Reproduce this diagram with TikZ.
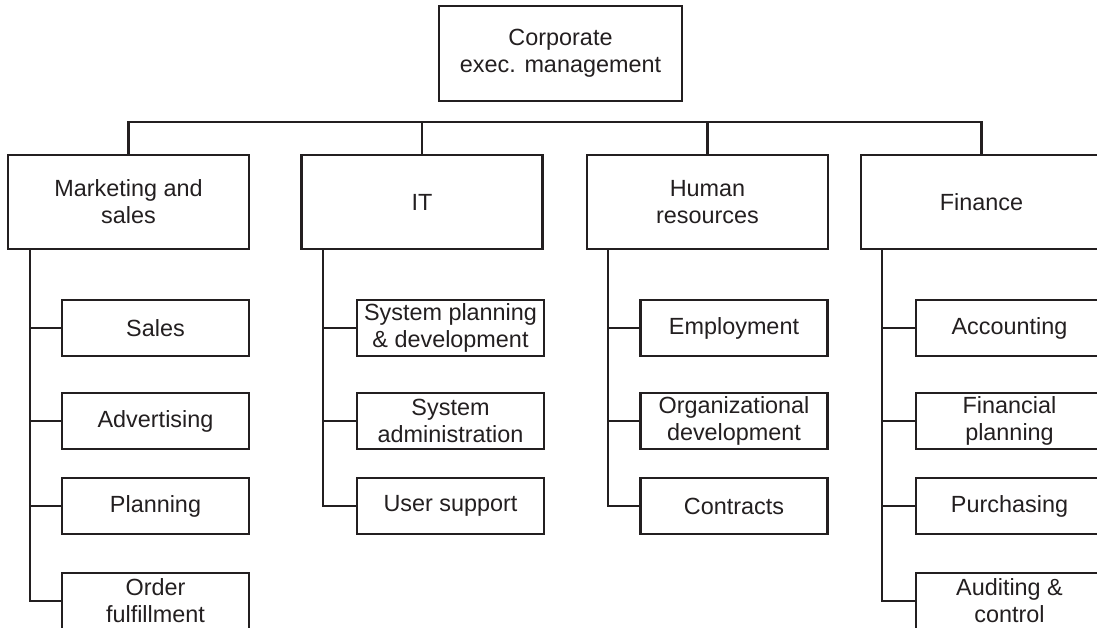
\documentclass[tikz,border=0pt]{standalone}
\usepackage{fontspec}
\setmainfont{Liberation Sans}
\definecolor{ink}{HTML}{231F20}
\begin{document}
\begin{tikzpicture}[x=1pt,y=-1pt,
  box/.style={draw=ink, line width=2.6pt, rectangle, inner sep=0pt, align=center,
    text=ink, font=\fontsize{23.4}{27}\selectfont},
  topbox/.style={box, minimum width=243pt, minimum height=95pt},
  deptbox/.style={box, minimum width=241pt, minimum height=94pt},
  unitbox/.style={box, minimum width=187pt, minimum height=56pt},
  conn/.style={draw=ink, line width=2.6pt}]
\useasboundingbox (0,0) rectangle (1097,628);
\clip (0,0) rectangle (1097,628);
\fill[white] (0,0) rectangle (1097,628);

% top
\node[topbox] (ceo) at (560.5,53.5) {Corporate\\exec. management};

% departments
\node[deptbox] (mk) at (128.5,202) {Marketing and\\sales};
\node[deptbox] (it) at (422,202) {IT};
\node[deptbox] (hr) at (707.5,202) {Human\\resources};
\node[deptbox] (fin) at (981.5,202) {Finance};

% bus
\coordinate (bus) at (0,122);
\draw[conn] (mk.north) -- (mk.north |- bus) -- (fin.north |- bus) -- (fin.north);
\draw[conn] (it.north) -- (it.north |- bus);
\draw[conn] (hr.north) -- (hr.north |- bus);

% marketing units
\node[unitbox] (sales) at (155.5,328) {Sales};
\node[unitbox] (adv) at (155.5,421) {Advertising};
\node[unitbox] (plan) at (155.5,506) {Planning};
\node[unitbox] (order) at (155.5,601) {Order\\fulfillment};
\coordinate (mkT) at (30,249);
\draw[conn] (mkT) |- (order.west);
\draw[conn] (mkT |- sales.west) -- (sales.west);
\draw[conn] (mkT |- adv.west) -- (adv.west);
\draw[conn] (mkT |- plan.west) -- (plan.west);

% IT units
\node[unitbox] (spd) at (450.5,328) {System planning\\\& development};
\node[unitbox] (sadm) at (450.5,421) {System\\administration};
\node[unitbox] (usup) at (450.5,506) {User support};
\coordinate (itT) at (323,249);
\draw[conn] (itT) |- (usup.west);
\draw[conn] (itT |- spd.west) -- (spd.west);
\draw[conn] (itT |- sadm.west) -- (sadm.west);

% HR units
\node[unitbox] (emp) at (734,328) {Employment};
\node[unitbox] (orgd) at (734,421) {Organizational\\development};
\node[unitbox] (contr) at (734,506) {Contracts};
\coordinate (hrT) at (608,249);
\draw[conn] (hrT) |- (contr.west);
\draw[conn] (hrT |- emp.west) -- (emp.west);
\draw[conn] (hrT |- orgd.west) -- (orgd.west);

% Finance units
\node[unitbox] (acc) at (1009.5,328) {Accounting};
\node[unitbox] (fplan) at (1009.5,421) {Financial\\planning};
\node[unitbox] (purch) at (1009.5,506) {Purchasing};
\node[unitbox] (audit) at (1009.5,601) {Auditing \&\\control};
\coordinate (finT) at (882,249);
\draw[conn] (finT) |- (audit.west);
\draw[conn] (finT |- acc.west) -- (acc.west);
\draw[conn] (finT |- fplan.west) -- (fplan.west);
\draw[conn] (finT |- purch.west) -- (purch.west);
\end{tikzpicture}
\end{document}
